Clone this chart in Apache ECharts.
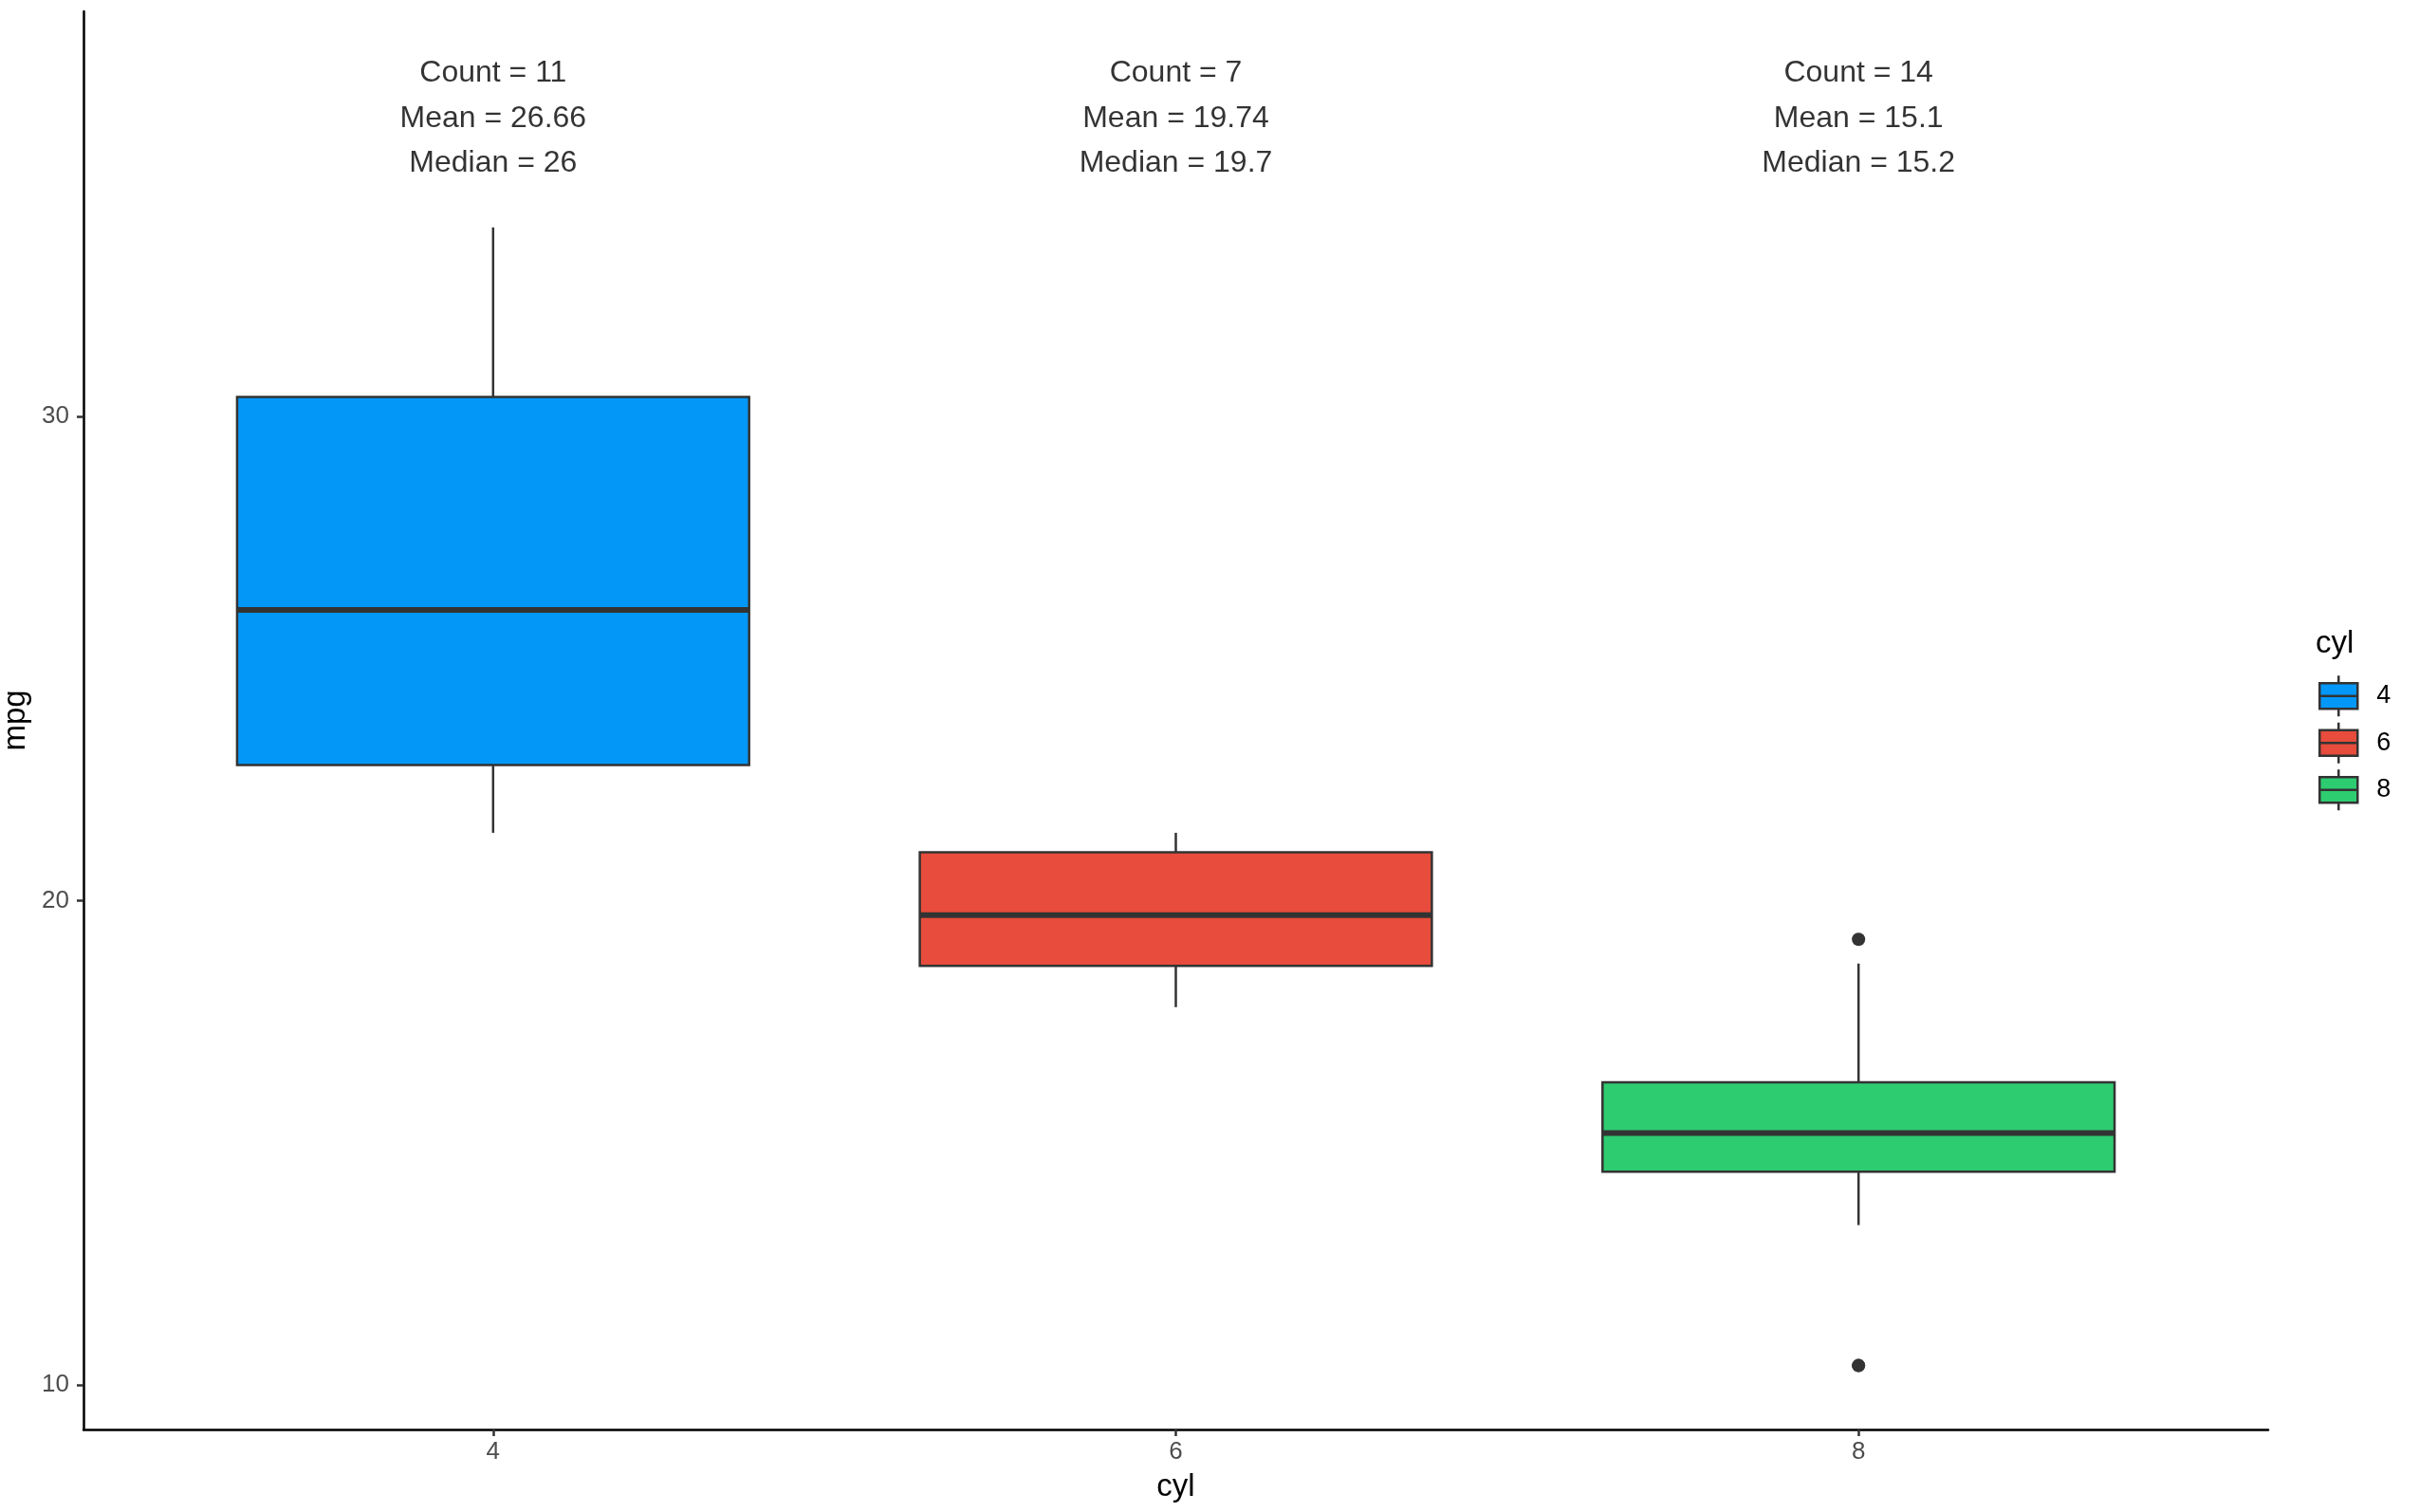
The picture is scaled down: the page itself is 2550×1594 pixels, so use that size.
<!DOCTYPE html>
<html>
<head>
<meta charset="utf-8">
<script src="https://cdn.jsdelivr.net/npm/echarts@6/dist/echarts.min.js"></script>
<style>
  html, body { margin: 0; padding: 0; background: #fff; }
  #chart { width: 2550px; height: 1594px; }
</style>
</head>
<body>
<div id="chart"></div>
<script>
// mpg by cylinder groups
const cylLevels = ['4', '6', '8'];
const cylPos = [1, 2, 3];
const whiskerLow = [21.4, 17.8, 13.3];
const q1 = [22.8, 18.65, 14.4];
const median = [26, 19.7, 15.2];
const q3 = [30.4, 21.0, 16.25];
const whiskerHigh = [33.9, 21.4, 18.7];
const outlierPos = [3, 3, 3];
const outlierMpg = [19.2, 10.4, 10.4];
const counts = [11, 7, 14];
const means = [26.66, 19.74, 15.1];
const yTicks = [10, 20, 30];
const colors = ['#0398F8', '#E74C3C', '#2ECC71'];

const labelY = 36.15;   // where the summary text sits
const boxWidth = 0.75;
const font = 'Liberation Sans';
const dark = '#333333';

const myChart = echarts.init(document.getElementById('chart'));

function renderBox(params, api) {
  const x = api.value(0);
  const lo = api.coord([x, api.value(1)]);
  const b1 = api.coord([x, api.value(2)]);
  const md = api.coord([x, api.value(3)]);
  const b3 = api.coord([x, api.value(4)]);
  const hi = api.coord([x, api.value(5)]);
  const w = api.size([boxWidth, 0])[0];
  const line = { stroke: dark, lineWidth: 2.5 };
  return {
    type: 'group',
    children: [
      { type: 'line', shape: { x1: lo[0], y1: lo[1], x2: b1[0], y2: b1[1] }, style: line },
      { type: 'line', shape: { x1: b3[0], y1: b3[1], x2: hi[0], y2: hi[1] }, style: line },
      { type: 'rect', shape: { x: b3[0] - w / 2, y: b3[1], width: w, height: b1[1] - b3[1] },
        style: { fill: api.visual('color'), stroke: dark, lineWidth: 2.5 } },
      { type: 'line', shape: { x1: md[0] - w / 2, y1: md[1], x2: md[0] + w / 2, y2: md[1] },
        style: { stroke: dark, lineWidth: 6 } }
    ]
  };
}

const boxSeries = cylLevels.map((c, i) => ({
  name: c,
  type: 'custom',
  renderItem: renderBox,
  itemStyle: { color: colors[i] },
  encode: { x: 0, y: [1, 2, 3, 4, 5] },
  data: [[cylPos[i], whiskerLow[i], q1[i], median[i], q3[i], whiskerHigh[i]]],
  z: 2
}));

const legendIcon = 'path://M20,0V8M0,8H40V35H0ZM0,21.5H40M20,35V43';

myChart.setOption({
  animation: false,
  backgroundColor: '#fff',
  textStyle: { fontFamily: font },
  title: {
    text: 'cyl',
    left: 2441,
    top: 662,
    padding: 0,
    textStyle: { fontFamily: font, fontSize: 33, fontWeight: 'normal', color: '#000' }
  },
  legend: {
    orient: 'vertical',
    left: 2444,
    top: 711,
    itemWidth: 40,
    itemHeight: 43,
    itemGap: 4,
    padding: 0,
    textStyle: { fontFamily: font, fontSize: 27, color: '#000', padding: [0, 0, 0, 15] },
    data: cylLevels.map((c, i) => ({
      name: c,
      icon: legendIcon,
      itemStyle: { color: colors[i], borderColor: dark, borderWidth: 2.5 }
    }))
  },
  grid: { left: 88, right: 159, top: 12, bottom: 87, outerBoundsMode: 'none', containLabel: false },
  xAxis: {
    type: 'value',
    min: 0.4,
    max: 3.6,
    name: 'cyl',
    nameLocation: 'middle',
    nameGap: 44,
    nameTextStyle: { fontFamily: font, fontSize: 33, color: '#000' },
    splitLine: { show: false },
    axisLine: { lineStyle: { color: '#000', width: 2.5 } },
    axisTick: { customValues: cylPos, length: 7, lineStyle: { color: dark, width: 2.5 } },
    axisLabel: {
      customValues: cylPos,
      formatter: v => cylLevels[cylPos.indexOf(v)],
      fontFamily: font, fontSize: 26, color: '#4D4D4D', margin: 11
    }
  },
  yAxis: {
    type: 'value',
    min: 9.08,
    max: 38.36,
    name: 'mpg',
    nameLocation: 'middle',
    nameGap: 35,
    nameTextStyle: { fontFamily: font, fontSize: 33, color: '#000' },
    splitLine: { show: false },
    axisLine: { show: true, lineStyle: { color: '#000', width: 2.5 } },
    axisTick: { show: true, customValues: yTicks, length: 7, lineStyle: { color: dark, width: 2.5 } },
    axisLabel: { customValues: yTicks, fontFamily: font, fontSize: 26, color: '#4D4D4D', margin: 15 }
  },
  series: [
    ...boxSeries,
    {
      name: 'outliers',
      type: 'scatter',
      symbol: 'circle',
      symbolSize: 14,
      itemStyle: { color: dark, opacity: 1 },
      data: outlierPos.map((p, i) => [p, outlierMpg[i]]),
      z: 3
    },
    {
      name: 'summary',
      type: 'scatter',
      symbolSize: 0,
      silent: true,
      data: cylPos.map(p => [p, labelY]),
      label: {
        show: true,
        position: 'inside',
        align: 'center',
        verticalAlign: 'middle',
        fontFamily: font,
        fontSize: 32,
        lineHeight: 47.5,
        color: '#000',
        textBorderWidth: 0,
        formatter: p => {
          const i = p.dataIndex;
          return 'Count = ' + counts[i] + '\nMean = ' + means[i] + '\nMedian = ' + median[i];
        }
      }
    }
  ]
});
</script>
</body>
</html>
